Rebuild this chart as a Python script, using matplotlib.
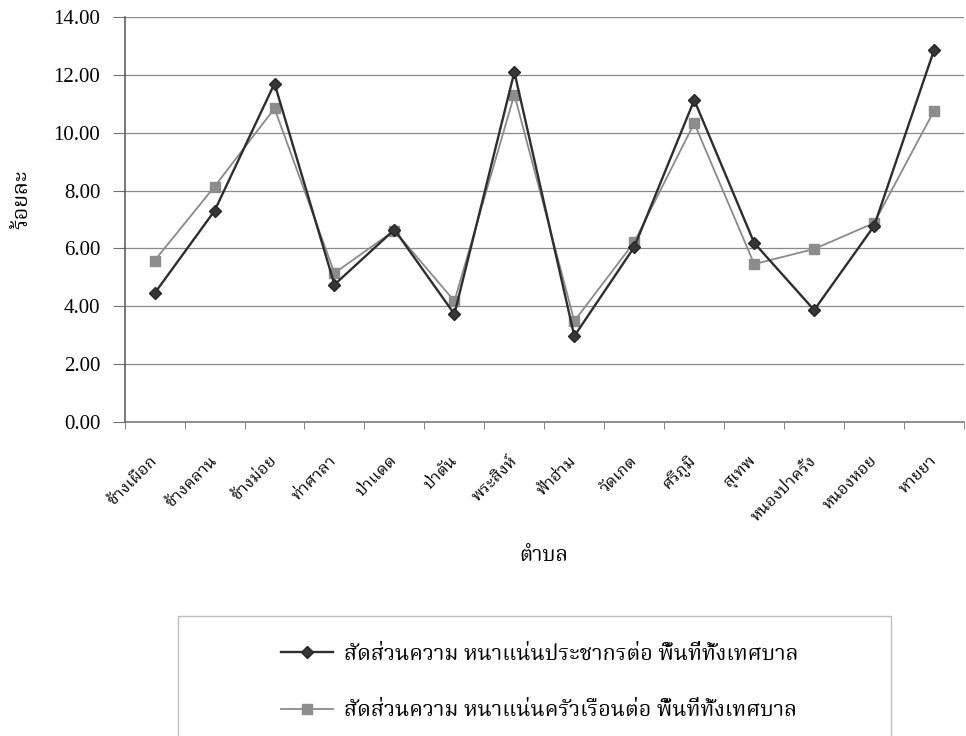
import numpy as np
import matplotlib
matplotlib.use('Agg')
import matplotlib.pyplot as plt
from matplotlib import font_manager
from matplotlib.ft2font import FT2Font
from matplotlib.patches import Rectangle


# ตำบล in the municipality
categories = ['ช้างเผือก', 'ช้างคลาน', 'ช้างม่อย', 'ท่าศาลา', 'ป่าแดด', 'ป่าตัน',
              'พระสิงห์', 'ฟ้าฮ่าม', 'วัดเกต', 'ศรีภูมิ', 'สุเทพ', 'หนองป่าครั่ง',
              'หนองหอย', 'หายยา']

# percent of total municipal area
pop_density = [4.45, 7.30, 11.70, 4.75, 6.65, 3.73, 12.10, 2.97, 6.05, 11.13,
               6.19, 3.87, 6.78, 12.86]
house_density = [5.58, 8.14, 10.84, 5.15, 6.62, 4.18, 11.32, 3.49, 6.22, 10.33,
                 5.46, 5.98, 6.88, 10.76]

y_ticks = [0, 2, 4, 6, 8, 10, 12, 14]

label_pop = 'สัดส่วนความ หนาแน่นประชากรต่อ พื้นที่ทั้งเทศบาล'
label_house = 'สัดส่วนความ หนาแน่นครัวเรือนต่อ พื้นที่ทั้งเทศบาล'


def find_thai_font():
    names = []
    for f in font_manager.fontManager.ttflist:
        try:
            if 0x0E01 in FT2Font(f.fname).get_charmap():
                names.append(f.name)
        except Exception:
            pass
    for pref in ['Noto Serif Thai', 'Noto Sans Thai Looped', 'Noto Sans Thai']:
        if pref in names:
            return pref
    return names[0] if names else 'DejaVu Sans'


thai = find_thai_font()
plt.rcParams['font.family'] = ['Liberation Serif', thai, 'DejaVu Sans']

fig = plt.figure(figsize=(9.66, 7.36), dpi=100)
ax = fig.add_axes([0.129, 0.4266, 0.869, 0.5503])

ax.plot(categories, pop_density, color='#2e2e2e', lw=1.7, marker='D',
        ms=6.5, mfc='#363636', mec='#262626', label=label_pop, zorder=4)
ax.plot(categories, house_density, color='#8a8a8a', lw=1.3, marker='s',
        ms=7, mfc='#8c8c8c', mec='#8c8c8c', label=label_house, zorder=3)

ax.set_xlim(-0.5, len(categories) - 0.5)
ax.set_ylim(0, 14)
ax.set_yticks(y_ticks)
ax.set_yticklabels(['%.2f' % v for v in y_ticks])
ax.yaxis.grid(True, color='#8a8a8a', lw=0.9)
ax.set_axisbelow(True)

for s in ['top', 'right']:
    ax.spines[s].set_visible(False)
ax.spines['left'].set_color('#555555')
ax.spines['bottom'].set_color('#707070')
ax.spines['left'].set_linewidth(1.1)
ax.spines['bottom'].set_linewidth(1.1)

ax.tick_params(axis='y', length=8.5, color='#707070', pad=9, labelsize=15)
ax.tick_params(axis='x', which='major', length=0, pad=26)
ax.set_xticks(np.arange(-0.5, len(categories), 1), minor=True)
ax.tick_params(axis='x', which='minor', length=5, color='#707070')
for lab in ax.get_xticklabels():
    lab.set_rotation(45)
    lab.set_ha('right')
    lab.set_va('center')
    lab.set_rotation_mode('anchor')
    lab.set_fontsize(12)
    lab.set_family(thai)

ax.set_ylabel('ร้อยละ', family=thai, fontsize=15.5)
ax.yaxis.set_label_coords(-0.11, 0.55)
ax.set_xlabel('ตำบล', family=thai, fontsize=15)
ax.xaxis.set_label_coords(0.5, -0.30)

# legend box runs off the bottom edge
fig.patches.append(Rectangle((0.184, -0.1), 0.738, 0.263, transform=fig.transFigure,
                             fill=False, edgecolor='#bdbdbd', lw=1))
leg = fig.legend(loc='upper left', bbox_to_anchor=(0.271, 0.153), frameon=False,
                 prop={'family': thai, 'size': 15.5}, handlelength=2.4,
                 labelspacing=1.6, handletextpad=0.5)

fig.savefig('out.png', dpi=100)
